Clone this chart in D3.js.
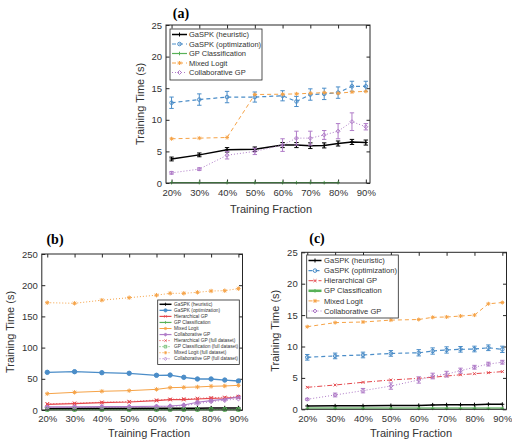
<!DOCTYPE html>
<html>
<head>
<meta charset="utf-8" />
<title>Training time vs training fraction</title>
<style>
body { margin: 0; background: #fff; }
svg { font-family: "Liberation Sans", Arial, sans-serif; }
</style>
</head>
<body>
<div id="graph"></div>
<script src="https://d3js.org/d3.v7.min.js"></script>
<script>
// shared x values
var fractions = [20, 30, 40, 50, 60, 65, 70, 75, 80, 85, 90];
var xTickValues = [20, 30, 40, 50, 60, 70, 80, 90];

// panel (a)
var aHeuristic       = [3.8, 4.45, 5.25, 5.35, 6.0, 6.0, 5.9, 5.95, 6.25, 6.5, 6.4];
var aHeuristicErr    = [0.3, 0.3, 0.35, 0.35, 0.4, 0.4, 0.45, 0.4, 0.4, 0.4, 0.4];
var aOptimization    = [12.7, 13.2, 13.6, 13.6, 13.8, 12.9, 14.0, 14.1, 14.3, 15.3, 15.3];
var aOptimizationErr = [0.9, 0.9, 0.9, 0.8, 0.8, 0.8, 0.9, 0.9, 0.9, 0.8, 0.8];
var aGPClass         = [0.05, 0.05, 0.05, 0.05, 0.05, 0.05, 0.05, 0.05, 0.05];
var aMixedLogit      = [7.0, 7.1, 7.2, 14.0, 14.05, 14.1, 14.2, 14.3, 14.2, 14.4, 14.5];
var aCollab          = [1.6, 2.2, 4.4, 5.0, 6.0, 7.1, 7.1, 7.6, 8.2, 9.7, 8.9];
var aCollabErr       = [0.2, 0.2, 0.6, 0.5, 1.0, 1.1, 1.1, 0.7, 1.2, 1.4, 0.5];

// panel (b)
var bHeuristic   = [2.6, 2.7, 2.7, 2.8, 2.8, 2.9, 2.9, 3.0, 3.1, 3.2, 3.3];
var bOptimization= [60.4, 61.4, 59.8, 58.8, 55.6, 56.0, 52.4, 49.7, 49.7, 48.0, 46.5];
var bHier        = [9.1, 10.2, 11.8, 12.8, 15.0, 16.6, 16.6, 17.6, 18.7, 19.2, 20.3];
var bGPClass     = [0.4, 0.4, 0.4, 0.4, 0.4, 0.4, 0.4, 0.4, 0.4, 0.4, 0.4];
var bMixedLogit  = [26.1, 28.3, 30.0, 31.0, 33.1, 35.8, 36.3, 36.9, 38.0, 38.5, 39.5];
var bCollab      = [5.0, 5.0, 5.5, 5.5, 6.0, 6.4, 8.0, 12.4, 15.0, 17.3, 21.0];
var bHierFull    = [10.0, 11.0, 12.5, 13.6, 16.0, 17.3, 17.8, 18.6, 19.8, 20.4, 21.6];
var bGPClassFull = [0.8, 0.8, 0.8, 0.8, 0.8, 0.8, 0.8, 0.8, 0.8, 0.8, 0.8];
var bMixedFull   = [172, 171, 176, 180, 184, 187, 187, 188.6, 190.7, 191.2, 194.5];
var bCollabFull  = [4.0, 4.0, 4.5, 4.5, 5.0, 5.5, 7.0, 10.0, 13.5, 15.5, 18.0];

// panel (c)
var cHeuristic       = [0.53, 0.55, 0.57, 0.6, 0.62, 0.7, 0.72, 0.72, 0.74, 0.8, 0.8];
var cOptimization    = [8.28, 8.5, 8.65, 8.9, 9.0, 9.28, 9.45, 9.55, 9.6, 9.8, 9.55];
var cOptimizationErr = [0.45, 0.45, 0.45, 0.45, 0.5, 0.5, 0.5, 0.45, 0.45, 0.45, 0.5];
var cHier            = [3.5, 3.87, 4.3, 4.67, 4.93, 5.1, 5.3, 5.5, 5.67, 5.83, 6.0];
var cGPClass         = [0.15, 0.15, 0.15, 0.15, 0.15, 0.15, 0.15, 0.15, 0.15, 0.15, 0.15];
var cMixedLogit      = [13.15, 13.8, 13.9, 14.2, 14.3, 14.65, 14.7, 14.85, 15.0, 16.8, 17.0];
var cCollab          = [1.6, 2.28, 2.97, 3.7, 4.67, 5.3, 5.6, 6.15, 6.7, 7.2, 7.5];
var cCollabErr       = [0.15, 0.3, 0.35, 0.5, 0.5, 0.45, 0.45, 0.4, 0.3, 0.3, 0.3];

var black = "#000000", blue = "#4b8dc8", green = "#58b158",
    orange = "#f6a347", purple = "#b07cc8", red = "#e5484d";
var axisColor = "#262626";
var textColor = "#333";
var xDomain = [18, 91.5];

var svg = d3.select("#graph").append("svg").attr("width", 512).attr("height", 445);

function markerPath(type, s) {
    var t = s * 0.72;
    var plus = "M" + (-s) + ",0H" + s + "M0," + (-s) + "V" + s;
    var cross = "M" + (-t) + "," + (-t) + "L" + t + "," + t + "M" + (-t) + "," + t + "L" + t + "," + (-t);
    if (type == "plus") return plus;
    if (type == "x") return cross;
    if (type == "star") return plus + cross;
    if (type == "circle") return "M" + s + ",0A" + s + "," + s + " 0 1,1 " + (-s) + ",0A" + s + "," + s + " 0 1,1 " + s + ",0Z";
    if (type == "diamond") return "M0," + (-s) + "L" + s + ",0L0," + s + "L" + (-s) + ",0Z";
    if (type == "square") return "M" + (-t) + "," + (-t) + "H" + t + "V" + t + "H" + (-t) + "Z";
    return "";
}

function drawMarker(g, s, px, py) {
    g.append("path")
        .attr("d", markerPath(s.marker, s.size))
        .attr("transform", "translate(" + [px, py] + ")")
        .attr("fill", s.filled ? s.color : "none")
        .attr("stroke", s.color)
        .attr("stroke-width", s.mWidth || 1);
}

function drawSeries(g, x, y, s) {
    var pts = s.values.map(function(v, i) {
        return { f: fractions[i], v: v, e: s.err ? s.err[i] : 0 };
    });
    var lineGen = d3.line()
        .x(function(d) { return x(d.f) })
        .y(function(d) { return y(d.v) });
    g.append("path")
        .attr("d", lineGen(pts))
        .attr("fill", "none")
        .attr("stroke", s.color)
        .attr("stroke-width", s.width)
        .attr("stroke-dasharray", s.dash || null)
        .attr("stroke-opacity", s.opacity || 1);
    if (s.err) {
        pts.forEach(function(d) {
            var cx = x(d.f), y0 = y(d.v - d.e), y1 = y(d.v + d.e);
            g.append("path")
                .attr("d", "M" + cx + "," + y0 + "V" + y1 +
                      "M" + (cx - 2.2) + "," + y0 + "H" + (cx + 2.2) +
                      "M" + (cx - 2.2) + "," + y1 + "H" + (cx + 2.2))
                .attr("fill", "none")
                .attr("stroke", s.color)
                .attr("stroke-width", 1);
        });
    }
    if (s.marker) {
        pts.forEach(function(d) { drawMarker(g, s, x(d.f), y(d.v)) });
    }
}

function drawLegend(g, L, series) {
    g.append("rect")
        .attr("x", L.x).attr("y", L.y).attr("width", L.w).attr("height", L.h)
        .attr("fill", "#fff").attr("stroke", axisColor).attr("stroke-width", 0.8);
    series.forEach(function(s, i) {
        var cy = L.first + i * L.step;
        g.append("path")
            .attr("d", "M" + L.x0 + "," + cy + "H" + L.x1)
            .attr("stroke", s.color)
            .attr("stroke-width", s.width)
            .attr("stroke-dasharray", s.dash || null);
        if (s.marker) {
            var ms = { marker: s.marker, size: s.size * L.scale, color: s.color, filled: s.filled, mWidth: (s.mWidth || 1) * L.scale };
            drawMarker(g, ms, (L.x0 + L.x1) / 2, cy);
        }
        g.append("text")
            .attr("x", L.tx).attr("y", cy).attr("dy", "0.35em")
            .attr("font-size", L.font + "px")
            .attr("fill", textColor)
            .text(s.name);
    });
}

function drawPanel(p) {
    var x = d3.scaleLinear().domain(xDomain).range([p.left, p.right]);
    var y = d3.scaleLinear().domain([0, p.yMax]).range([p.bottom, p.top]);
    var g = svg.append("g");
    var yTicks = d3.range(0, p.yMax + 0.001, p.yStep);

    var axes = [
        [d3.axisBottom(x).tickValues(xTickValues).tickFormat(function(d) { return d + "%" }).tickPadding(p.xPad), "translate(0," + p.bottom + ")"],
        [d3.axisTop(x).tickValues(xTickValues).tickFormat(""), "translate(0," + p.top + ")"],
        [d3.axisLeft(y).tickValues(yTicks).tickPadding(4), "translate(" + p.left + ",0)"],
        [d3.axisRight(y).tickValues(yTicks).tickFormat(""), "translate(" + p.right + ",0)"]
    ];
    axes.forEach(function(a) {
        var ax = g.append("g")
            .attr("transform", a[1])
            .call(a[0].tickSizeInner(-3.5).tickSizeOuter(0));
        ax.select(".domain").remove();
        ax.selectAll(".tick line").attr("stroke", axisColor);
        ax.selectAll(".tick text")
            .attr("fill", textColor)
            .attr("font-size", p.tickFont + "px")
            .attr("font-family", "Liberation Sans, Arial, sans-serif");
    });

    var plot = g.append("g");
    p.series.forEach(function(s) { drawSeries(plot, x, y, s) });

    g.append("rect")
        .attr("x", p.left).attr("y", p.top)
        .attr("width", p.right - p.left).attr("height", p.bottom - p.top)
        .attr("fill", "none").attr("stroke", axisColor).attr("stroke-width", 1);

    drawLegend(g, p.legend, p.series.filter(function(s) { return s.name }));

    g.append("text")
        .attr("x", p.titleX).attr("y", p.titleY).attr("dy", "0.35em")
        .attr("text-anchor", "middle")
        .attr("font-family", "Liberation Serif, Times New Roman, serif")
        .attr("font-weight", "bold").attr("font-size", "14px")
        .text(p.title);

    g.append("text")
        .attr("transform", "translate(" + [p.yLabelX, (p.top + p.bottom) / 2] + ") rotate(-90)")
        .attr("dy", "0.35em")
        .attr("text-anchor", "middle").attr("font-size", "11px").attr("fill", textColor)
        .text("Training Time (s)");

    g.append("text")
        .attr("x", p.xLabelX).attr("y", p.xLabelY).attr("dy", "0.35em")
        .attr("text-anchor", "middle").attr("font-size", "11px").attr("fill", textColor)
        .text("Training Fraction");
}

// panel (a)
drawPanel({
    left: 166, right: 370, top: 25, bottom: 183, yMax: 25, yStep: 5,
    tickFont: 9.5, xPad: 6,
    title: "(a)", titleX: 181, titleY: 13,
    yLabelX: 140, xLabelX: 271, xLabelY: 209,
    legend: { x: 170, y: 29, w: 92, h: 51, first: 34.5, step: 9.5, x0: 172, x1: 187, tx: 189, font: 7.5, scale: 1 },
    series: [
        { name: "GaSPK (heuristic)", values: aHeuristic, err: aHeuristicErr, color: black, width: 1.5, marker: "plus", size: 2 },
        { name: "GaSPK (optimization)", values: aOptimization, err: aOptimizationErr, color: blue, width: 1.2, dash: "4,3", marker: "circle", size: 1.8 },
        { name: "GP Classification", values: aGPClass, color: green, width: 1.2, marker: "plus", size: 1.8 },
        { name: "Mixed Logit", values: aMixedLogit, color: orange, width: 1, dash: "4,3", marker: "star", size: 2 },
        { name: "Collaborative GP", values: aCollab, err: aCollabErr, color: purple, width: 1, dash: "1,2", marker: "diamond", size: 2 }
    ]
});

// panel (b)
drawPanel({
    left: 41.8, right: 242.5, top: 254, bottom: 410, yMax: 250, yStep: 50,
    tickFont: 9.5, xPad: 5.5,
    title: "(b)", titleX: 55, titleY: 239,
    yLabelX: 10, xLabelX: 149, xLabelY: 433,
    legend: { x: 157.7, y: 300, w: 81.6, h: 64.5, first: 304.3, step: 6.05, x0: 159.5, x1: 171.5, tx: 174, font: 4.8, scale: 0.75 },
    series: [
        { name: "GaSPK (heuristic)", values: bHeuristic, color: black, width: 1.5, marker: "plus", size: 2.2 },
        { name: "GaSPK (optimization)", values: bOptimization, color: blue, width: 1.3, marker: "circle", size: 2.2, filled: true },
        { name: "Hierarchical GP", values: bHier, color: red, width: 1.2, marker: "x", size: 2.4 },
        { name: "GP Classification", values: bGPClass, color: green, width: 1.2, marker: "plus", size: 2 },
        { name: "Mixed Logit", values: bMixedLogit, color: orange, width: 1, marker: "star", size: 2.2 },
        { name: "Collaborative GP", values: bCollab, color: purple, width: 1.2, marker: "diamond", size: 2.2, filled: true },
        { name: "Hierarchical GP (full dataset)", values: bHierFull, color: red, width: 1, dash: "1,2", marker: "x", size: 2.2, opacity: 0.8 },
        { name: "GP Classification (full dataset)", values: bGPClassFull, color: green, width: 1, dash: "1,2", marker: "square", size: 2.4 },
        { name: "Mixed Logit (full dataset)", values: bMixedFull, color: orange, width: 1, dash: "1,2", marker: "star", size: 2.2 },
        { name: "Collaborative GP (full dataset)", values: bCollabFull, color: purple, width: 1, dash: "1,2", marker: "diamond", size: 2.2 }
    ]
});

// panel (c)
drawPanel({
    left: 301.7, right: 506.5, top: 252.3, bottom: 409.3, yMax: 25, yStep: 5,
    tickFont: 9.5, xPad: 6,
    title: "(c)", titleX: 317, titleY: 238.5,
    yLabelX: 275, xLabelX: 411, xLabelY: 433,
    legend: { x: 306.7, y: 255, w: 91.6, h: 63, first: 260.5, step: 10.1, x0: 308.5, x1: 321.5, tx: 324, font: 7.6, scale: 1 },
    series: [
        { name: "GaSPK (heuristic)", values: cHeuristic, color: black, width: 1.5, marker: "plus", size: 2 },
        { name: "GaSPK (optimization)", values: cOptimization, err: cOptimizationErr, color: blue, width: 1.2, dash: "4,3", marker: "circle", size: 1.8 },
        { name: "Hierarchical GP", values: cHier, color: red, width: 1, dash: "5,2,1,2", marker: "x", size: 2 },
        { name: "GP Classification", values: cGPClass, color: green, width: 2.5, marker: "plus", size: 1.8, opacity: 0.6 },
        { name: "Mixed Logit", values: cMixedLogit, color: orange, width: 1, dash: "4,3", marker: "star", size: 2 },
        { name: "Collaborative GP", values: cCollab, err: cCollabErr, color: purple, width: 1, dash: "1,2", marker: "diamond", size: 2 }
    ]
});
</script>
</body>
</html>
